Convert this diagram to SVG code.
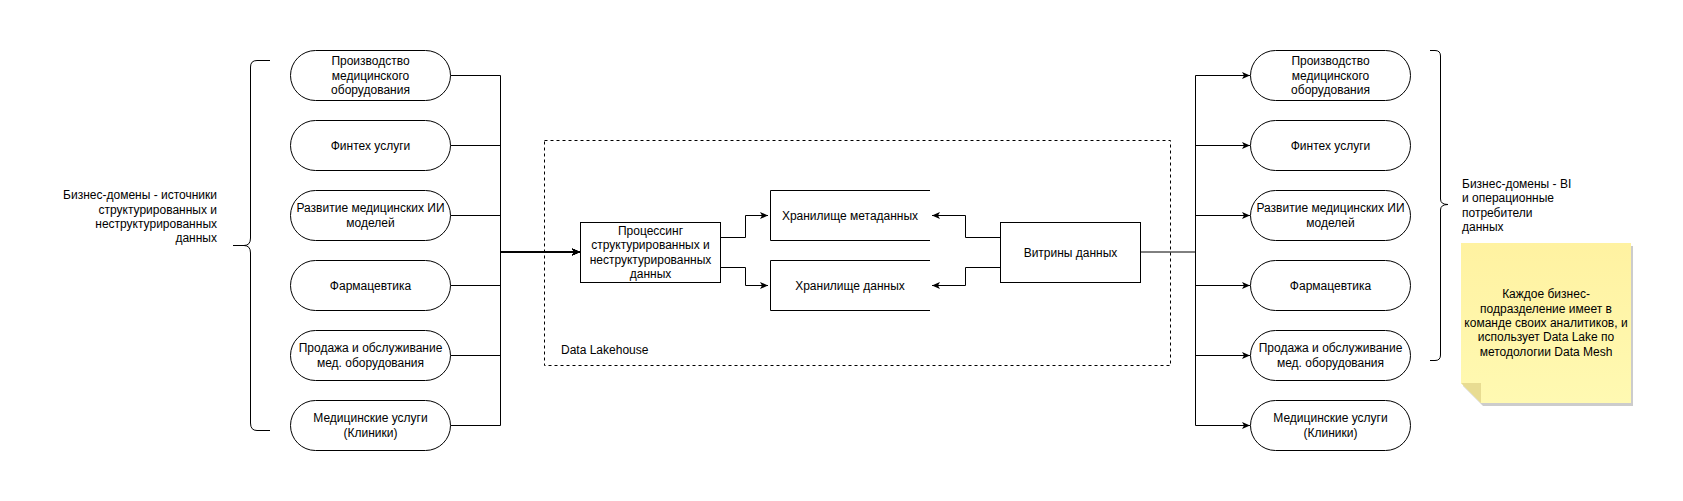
<svg xmlns="http://www.w3.org/2000/svg" width="1683" height="501" viewBox="0 0 1683 501">
<style>
.node{fill:#fff;stroke:#000;stroke-width:1}
.t{font-family:"Liberation Sans",Arial,Helvetica,sans-serif;font-size:12px;fill:#000}
.c{text-anchor:middle}
.e{text-anchor:end}
.edge{fill:none;stroke:#000;stroke-width:1}
.brace{fill:none;stroke:#000;stroke-width:1}
</style>
<defs>
<marker id="arrow" viewBox="0 0 10 10" refX="10" refY="5" markerWidth="8" markerHeight="8" markerUnits="userSpaceOnUse" orient="auto"><path d="M0,0.6 L10,5 L0,9.4 L2.5,5 z" fill="#000"/></marker>
<linearGradient id="noteGrad" x1="0" y1="0" x2="0" y2="1"><stop offset="0" stop-color="#FFF2A1"/><stop offset="1" stop-color="#FFF9B2"/></linearGradient>
</defs>
<rect width="1683" height="501" fill="#fff"/>

<g id="lakehouse">
<rect x="544.5" y="140.5" width="626" height="225" fill="none" stroke="#000" stroke-width="1" stroke-dasharray="3,3"/>
<text class="t" x="561" y="354">Data Lakehouse</text>
</g>

<g id="connectors">
<path class="edge" d="M450.5,75.5 H500.5 V252 H580" marker-end="url(#arrow)"/>
<path class="edge" d="M450.5,145.5 H500.5 V252 H580" marker-end="url(#arrow)"/>
<path class="edge" d="M450.5,215.5 H500.5 V252 H580" marker-end="url(#arrow)"/>
<path class="edge" d="M450.5,285.5 H500.5 V252 H580" marker-end="url(#arrow)"/>
<path class="edge" d="M450.5,355.5 H500.5 V252 H580" marker-end="url(#arrow)"/>
<path class="edge" d="M450.5,425.5 H500.5 V252 H580" marker-end="url(#arrow)"/>
<path class="edge" d="M720.5,237.5 H745.5 V215.5 H768" marker-end="url(#arrow)"/>
<path class="edge" d="M720.5,267.5 H745.5 V285.5 H768" marker-end="url(#arrow)"/>
<path class="edge" d="M1000.5,237.5 H965.5 V215.5 H932" marker-end="url(#arrow)"/>
<path class="edge" d="M1000.5,267.5 H965.5 V285.5 H932" marker-end="url(#arrow)"/>
<path class="edge" d="M1140.5,252 H1195.5"/>
<path class="edge" d="M1195.5,75.5 V425.5"/>
<path class="edge" d="M1195.5,75.5 H1250" marker-end="url(#arrow)"/>
<path class="edge" d="M1195.5,145.5 H1250" marker-end="url(#arrow)"/>
<path class="edge" d="M1195.5,215.5 H1250" marker-end="url(#arrow)"/>
<path class="edge" d="M1195.5,285.5 H1250" marker-end="url(#arrow)"/>
<path class="edge" d="M1195.5,355.5 H1250" marker-end="url(#arrow)"/>
<path class="edge" d="M1195.5,425.5 H1250" marker-end="url(#arrow)"/>
</g>

<g id="brace-left">
<path class="brace" d="M270,60.5 H257 Q250.5,60.5 250.5,67 V238 Q250.5,245.5 244,245.5 H233 M244,245.5 Q250.5,245.5 250.5,253 V423 Q250.5,430.5 257,430.5 H270"/>
</g>
<g id="label-left">
<text class="t e" x="217" y="199.2">Бизнес-домены - источники</text>
<text class="t e" x="217" y="213.6">структурированных и</text>
<text class="t e" x="217" y="228">неструктурированных</text>
<text class="t e" x="217" y="242.4">данных</text>
</g>

<g id="src-1"><rect class="node" x="290.5" y="50.5" width="160" height="50" rx="25" ry="25"/>
<text class="t c" x="370.5" y="65.1">Производство</text><text class="t c" x="370.5" y="79.5">медицинского</text><text class="t c" x="370.5" y="93.9">оборудования</text></g>
<g id="src-2"><rect class="node" x="290.5" y="120.5" width="160" height="50" rx="25" ry="25"/>
<text class="t c" x="370.5" y="149.5">Финтех услуги</text></g>
<g id="src-3"><rect class="node" x="290.5" y="190.5" width="160" height="50" rx="25" ry="25"/>
<text class="t c" x="370.5" y="212.3">Развитие медицинских ИИ</text><text class="t c" x="370.5" y="226.7">моделей</text></g>
<g id="src-4"><rect class="node" x="290.5" y="260.5" width="160" height="50" rx="25" ry="25"/>
<text class="t c" x="370.5" y="289.5">Фармацевтика</text></g>
<g id="src-5"><rect class="node" x="290.5" y="330.5" width="160" height="50" rx="25" ry="25"/>
<text class="t c" x="370.5" y="352.3">Продажа и обслуживание</text><text class="t c" x="370.5" y="366.7">мед. оборудования</text></g>
<g id="src-6"><rect class="node" x="290.5" y="400.5" width="160" height="50" rx="25" ry="25"/>
<text class="t c" x="370.5" y="422.3">Медицинские услуги</text><text class="t c" x="370.5" y="436.7">(Клиники)</text></g>

<g id="processing"><rect class="node" x="580.5" y="222.5" width="140" height="60"/>
<text class="t c" x="650.5" y="234.9">Процессинг</text><text class="t c" x="650.5" y="249.3">структурированных и</text><text class="t c" x="650.5" y="263.7">неструктурированных</text><text class="t c" x="650.5" y="278.1">данных</text></g>

<g id="meta-store"><path class="node" fill="none" d="M930,190.5 H770.5 V240.5 H930"/>
<text class="t c" x="850" y="219.5">Хранилище метаданных</text></g>
<g id="data-store"><path class="node" fill="none" d="M930,260.5 H770.5 V310.5 H930"/>
<text class="t c" x="850" y="289.5">Хранилище данных</text></g>

<g id="marts"><rect class="node" x="1000.5" y="222.5" width="140" height="60"/>
<text class="t c" x="1070.5" y="256.5">Витрины данных</text></g>

<g id="dst-1"><rect class="node" x="1250.5" y="50.5" width="160" height="50" rx="25" ry="25"/>
<text class="t c" x="1330.5" y="65.1">Производство</text><text class="t c" x="1330.5" y="79.5">медицинского</text><text class="t c" x="1330.5" y="93.9">оборудования</text></g>
<g id="dst-2"><rect class="node" x="1250.5" y="120.5" width="160" height="50" rx="25" ry="25"/>
<text class="t c" x="1330.5" y="149.5">Финтех услуги</text></g>
<g id="dst-3"><rect class="node" x="1250.5" y="190.5" width="160" height="50" rx="25" ry="25"/>
<text class="t c" x="1330.5" y="212.3">Развитие медицинских ИИ</text><text class="t c" x="1330.5" y="226.7">моделей</text></g>
<g id="dst-4"><rect class="node" x="1250.5" y="260.5" width="160" height="50" rx="25" ry="25"/>
<text class="t c" x="1330.5" y="289.5">Фармацевтика</text></g>
<g id="dst-5"><rect class="node" x="1250.5" y="330.5" width="160" height="50" rx="25" ry="25"/>
<text class="t c" x="1330.5" y="352.3">Продажа и обслуживание</text><text class="t c" x="1330.5" y="366.7">мед. оборудования</text></g>
<g id="dst-6"><rect class="node" x="1250.5" y="400.5" width="160" height="50" rx="25" ry="25"/>
<text class="t c" x="1330.5" y="422.3">Медицинские услуги</text><text class="t c" x="1330.5" y="436.7">(Клиники)</text></g>

<g id="brace-right">
<path class="brace" d="M1430,50.5 H1435 Q1440.5,50.5 1440.5,56 V199 Q1440.5,204.5 1448,204.5 M1448,204.5 Q1440.5,204.5 1440.5,210 V355 Q1440.5,360.5 1435,360.5 H1430"/>
</g>
<g id="label-right">
<text class="t" x="1462" y="188">Бизнес-домены - BI</text>
<text class="t" x="1462" y="202.4">и операционные</text>
<text class="t" x="1462" y="216.8">потребители</text>
<text class="t" x="1462" y="231.2">данных</text>
</g>

<g id="note">
<polygon points="1463,246 1633,246 1633,406 1483,406 1463,386" fill="#000" opacity="0.2"/>
<polygon points="1461,243 1631,243 1631,403 1481,403 1461,383" fill="url(#noteGrad)"/>
<polygon points="1461,383 1481,383 1481,403" fill="#E8DC92"/>
<text class="t c" x="1546" y="298.2">Каждое бизнес-</text>
<text class="t c" x="1546" y="312.6">подразделение имеет в</text>
<text class="t c" x="1546" y="327">команде своих аналитиков, и</text>
<text class="t c" x="1546" y="341.4">использует Data Lake по</text>
<text class="t c" x="1546" y="355.8">методологии Data Mesh</text>
</g>
</svg>
